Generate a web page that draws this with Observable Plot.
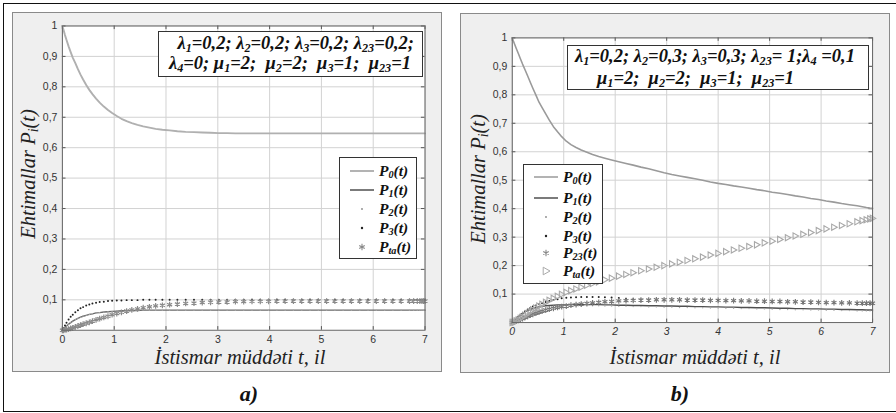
<!DOCTYPE html>
<html><head><meta charset="utf-8">
<script src="https://cdn.jsdelivr.net/npm/d3@7"></script>
<script src="https://cdn.jsdelivr.net/npm/@observablehq/plot@0.6"></script>
<style>
body{margin:0;background:#fff;}
#root{position:relative;width:896px;height:413px;overflow:hidden;}
.serif{font-family:"Liberation Serif","Times New Roman",Times,serif;}
.outer{position:absolute;left:3px;top:3px;width:895px;height:409px;border:1.5px solid #111;border-right:none;box-sizing:border-box}
.panel{position:absolute;background:#efefef;border:1.5px solid #8a8a8a;box-sizing:border-box}
.plot{position:absolute;left:0;top:0}
.note{position:absolute;background:#fff;border:1.5px solid #333;box-sizing:border-box;font-style:italic;font-weight:bold;font-size:18.5px;color:#111;white-space:nowrap}
.note div{position:absolute;line-height:20px}
sub{font-size:66%;vertical-align:baseline;position:relative;top:0.22em}
.leg{position:absolute;background:#fff;border:1.5px solid #333;box-sizing:border-box}
.legrow{position:absolute;left:0;height:18px;display:flex;align-items:center}
.legrow svg{display:block}
.legtxt{font-style:italic;font-weight:bold;font-size:15.5px;color:#111;margin-left:3px;white-space:nowrap}
.xt{position:absolute;font-style:italic;font-size:20.5px;color:#222;white-space:nowrap;transform:translate(-50%,-50%)}
.yt{position:absolute;font-style:italic;font-size:20.5px;color:#222;white-space:nowrap;transform:translate(-50%,-50%) rotate(-90deg)}
.cap{position:absolute;font-style:italic;font-weight:bold;font-size:22px;color:#111;transform:translate(-50%,-50%)}
</style></head>
<body><div id="root"></div>
<script>
// ---------- data ----------
const xTicks = [0, 1, 2, 3, 4, 5, 6, 7];
const yTicks = [0.1, 0.2, 0.3, 0.4, 0.5, 0.6, 0.7, 0.8, 0.9, 1];

// panel a) solver time points
const tA = [
 0, 0.02, 0.05, 0.08, 0.12, 0.16, 0.2, 0.25,
 0.3, 0.35, 0.4, 0.46, 0.52, 0.58, 0.65, 0.72,
 0.8, 0.88, 0.96, 1.05, 1.14, 1.24, 1.34, 1.45,
 1.56, 1.68, 1.8, 1.93, 2.07, 2.22, 2.38, 2.54,
 2.7, 2.86, 3.02, 3.18, 3.34, 3.5, 3.66, 3.82,
 3.98, 4.14, 4.3, 4.46, 4.62, 4.78, 4.94, 5.1,
 5.26, 5.42, 5.58, 5.74, 5.9, 6.06, 6.22, 6.38,
 6.54, 6.7, 6.78, 6.85, 6.9, 6.94, 6.97, 7.0];
const P0a = [
 1.000, 0.988, 0.970, 0.954, 0.933, 0.914, 0.896, 0.878,
 0.858, 0.840, 0.824, 0.806, 0.790, 0.776, 0.761, 0.748,
 0.735, 0.724, 0.714, 0.704, 0.695, 0.687, 0.681, 0.675,
 0.670, 0.666, 0.662, 0.659, 0.657, 0.654, 0.652, 0.651,
 0.650, 0.649, 0.648, 0.648, 0.647, 0.647, 0.647, 0.647,
 0.647, 0.647, 0.647, 0.647, 0.647, 0.647, 0.647, 0.647,
 0.647, 0.647, 0.647, 0.647, 0.647, 0.647, 0.647, 0.647,
 0.647, 0.647, 0.647, 0.647, 0.647, 0.647, 0.647, 0.647];
const P1a = [
 0, 0.004, 0.009, 0.014, 0.020, 0.025, 0.030, 0.035,
 0.039, 0.043, 0.046, 0.049, 0.052, 0.054, 0.057, 0.058,
 0.060, 0.061, 0.062, 0.063, 0.064, 0.064, 0.065, 0.065,
 0.066, 0.066, 0.066, 0.066, 0.066, 0.066, 0.066, 0.066,
 0.066, 0.066, 0.066, 0.066, 0.066, 0.066, 0.066, 0.066,
 0.066, 0.066, 0.066, 0.066, 0.066, 0.066, 0.066, 0.066,
 0.066, 0.066, 0.066, 0.066, 0.066, 0.066, 0.066, 0.066,
 0.066, 0.066, 0.066, 0.066, 0.066, 0.066, 0.066, 0.066];
const P2a = [
 0, 0.004, 0.009, 0.014, 0.020, 0.025, 0.030, 0.035,
 0.039, 0.043, 0.046, 0.049, 0.052, 0.054, 0.057, 0.058,
 0.060, 0.061, 0.062, 0.063, 0.064, 0.064, 0.065, 0.065,
 0.066, 0.066, 0.066, 0.066, 0.066, 0.066, 0.066, 0.066,
 0.066, 0.066, 0.066, 0.066, 0.066, 0.066, 0.066, 0.066,
 0.066, 0.066, 0.066, 0.066, 0.066, 0.066, 0.066, 0.066,
 0.066, 0.066, 0.066, 0.066, 0.066, 0.066, 0.066, 0.066,
 0.066, 0.066, 0.066, 0.066, 0.066, 0.066, 0.066, 0.066];
const P3a = [
 0, 0.007, 0.016, 0.025, 0.035, 0.044, 0.051, 0.059,
 0.066, 0.072, 0.076, 0.081, 0.085, 0.088, 0.090, 0.093,
 0.094, 0.096, 0.097, 0.098, 0.098, 0.099, 0.099, 0.099,
 0.100, 0.100, 0.100, 0.100, 0.100, 0.100, 0.100, 0.100,
 0.100, 0.100, 0.100, 0.100, 0.100, 0.100, 0.100, 0.100,
 0.100, 0.100, 0.100, 0.100, 0.100, 0.100, 0.100, 0.100,
 0.100, 0.100, 0.100, 0.100, 0.100, 0.100, 0.100, 0.100,
 0.100, 0.100, 0.100, 0.100, 0.100, 0.100, 0.100, 0.100];
const PTa_a = [
 0, 0.000, 0.001, 0.002, 0.004, 0.006, 0.008, 0.011,
 0.014, 0.017, 0.020, 0.023, 0.026, 0.030, 0.034, 0.038,
 0.042, 0.046, 0.051, 0.055, 0.059, 0.063, 0.067, 0.070,
 0.074, 0.077, 0.080, 0.082, 0.084, 0.086, 0.088, 0.089,
 0.091, 0.092, 0.093, 0.093, 0.094, 0.094, 0.095, 0.095,
 0.095, 0.096, 0.096, 0.096, 0.096, 0.096, 0.096, 0.096,
 0.096, 0.096, 0.096, 0.096, 0.096, 0.096, 0.096, 0.096,
 0.096, 0.096, 0.096, 0.096, 0.096, 0.096, 0.096, 0.096];

// panel b) solver time points
const tB = [
 0, 0.02, 0.05, 0.08, 0.12, 0.16, 0.2, 0.25,
 0.3, 0.35, 0.4, 0.46, 0.52, 0.58, 0.65, 0.72,
 0.8, 0.88, 0.96, 1.05, 1.14, 1.24, 1.34, 1.45,
 1.56, 1.68, 1.8, 1.93, 2.07, 2.21, 2.35, 2.5,
 2.65, 2.8, 2.95, 3.1, 3.25, 3.4, 3.55, 3.7,
 3.85, 4.0, 4.15, 4.3, 4.45, 4.6, 4.75, 4.9,
 5.05, 5.2, 5.35, 5.5, 5.65, 5.8, 5.95, 6.1,
 6.25, 6.4, 6.55, 6.7, 6.8, 6.88, 6.95, 7.0];
const P0b = [
 1.000, 0.990, 0.976, 0.962, 0.944, 0.926, 0.908, 0.887,
 0.866, 0.844, 0.823, 0.799, 0.774, 0.755, 0.733, 0.711,
 0.688, 0.670, 0.653, 0.637, 0.625, 0.615, 0.606, 0.598,
 0.590, 0.583, 0.577, 0.571, 0.565, 0.559, 0.553, 0.546,
 0.540, 0.533, 0.526, 0.520, 0.515, 0.510, 0.505, 0.500,
 0.494, 0.489, 0.485, 0.480, 0.476, 0.472, 0.467, 0.463,
 0.458, 0.454, 0.450, 0.445, 0.441, 0.436, 0.432, 0.427,
 0.423, 0.418, 0.414, 0.410, 0.407, 0.404, 0.402, 0.401];
const P1b = [
 0, 0.004, 0.010, 0.015, 0.021, 0.027, 0.032, 0.037,
 0.042, 0.046, 0.049, 0.052, 0.055, 0.057, 0.059, 0.060,
 0.061, 0.062, 0.062, 0.062, 0.063, 0.063, 0.063, 0.063,
 0.063, 0.063, 0.062, 0.062, 0.061, 0.061, 0.060, 0.060,
 0.059, 0.059, 0.058, 0.058, 0.057, 0.057, 0.056, 0.056,
 0.055, 0.055, 0.054, 0.054, 0.053, 0.053, 0.052, 0.052,
 0.051, 0.050, 0.050, 0.049, 0.049, 0.048, 0.048, 0.047,
 0.047, 0.046, 0.046, 0.045, 0.045, 0.044, 0.044, 0.044];
const P2b = [
 0, 0.003, 0.008, 0.013, 0.018, 0.023, 0.028, 0.033,
 0.038, 0.042, 0.045, 0.048, 0.051, 0.053, 0.055, 0.056,
 0.057, 0.058, 0.058, 0.059, 0.059, 0.059, 0.059, 0.059,
 0.059, 0.059, 0.058, 0.058, 0.057, 0.057, 0.056, 0.056,
 0.055, 0.055, 0.054, 0.054, 0.053, 0.053, 0.052, 0.052,
 0.051, 0.051, 0.050, 0.050, 0.049, 0.049, 0.048, 0.048,
 0.047, 0.046, 0.046, 0.045, 0.045, 0.044, 0.044, 0.043,
 0.043, 0.042, 0.042, 0.041, 0.041, 0.041, 0.041, 0.041];
const P3b = [
 0, 0.004, 0.009, 0.014, 0.020, 0.026, 0.032, 0.040,
 0.046, 0.051, 0.056, 0.060, 0.064, 0.068, 0.072, 0.076,
 0.079, 0.082, 0.085, 0.087, 0.088, 0.089, 0.090, 0.090,
 0.090, 0.090, 0.089, 0.088, 0.086, 0.084, 0.082, 0.081,
 0.080, 0.080, 0.080, 0.080, 0.080, 0.079, 0.079, 0.079,
 0.078, 0.078, 0.077, 0.077, 0.076, 0.076, 0.075, 0.075,
 0.074, 0.074, 0.073, 0.073, 0.072, 0.072, 0.071, 0.070,
 0.070, 0.069, 0.069, 0.068, 0.068, 0.068, 0.068, 0.068];
const P23b = [
 0, 0.001, 0.003, 0.005, 0.008, 0.011, 0.014, 0.018,
 0.022, 0.026, 0.029, 0.033, 0.037, 0.040, 0.044, 0.047,
 0.050, 0.053, 0.056, 0.058, 0.061, 0.063, 0.065, 0.067,
 0.069, 0.071, 0.073, 0.074, 0.076, 0.077, 0.078, 0.079,
 0.079, 0.080, 0.080, 0.080, 0.080, 0.079, 0.079, 0.079,
 0.078, 0.078, 0.077, 0.077, 0.076, 0.076, 0.075, 0.075,
 0.074, 0.074, 0.073, 0.073, 0.072, 0.072, 0.071, 0.070,
 0.070, 0.069, 0.069, 0.068, 0.068, 0.068, 0.068, 0.068];
const PTa_b = [
 0, 0.001, 0.003, 0.006, 0.010, 0.015, 0.020, 0.026,
 0.032, 0.038, 0.045, 0.051, 0.058, 0.064, 0.071, 0.078,
 0.085, 0.092, 0.099, 0.106, 0.112, 0.118, 0.124, 0.131,
 0.137, 0.143, 0.150, 0.156, 0.163, 0.169, 0.175, 0.182,
 0.188, 0.194, 0.200, 0.206, 0.212, 0.218, 0.224, 0.230,
 0.237, 0.243, 0.249, 0.255, 0.261, 0.267, 0.273, 0.280,
 0.286, 0.292, 0.298, 0.304, 0.310, 0.316, 0.323, 0.329,
 0.335, 0.341, 0.347, 0.354, 0.358, 0.361, 0.364, 0.366];

const xTitle = "İstismar müddəti t, il";
const yTitleHTML = "Ehtimallar P<sub>i</sub>(t)";
const noteA = ["λ<sub>1</sub>=0,2; λ<sub>2</sub>=0,2; λ<sub>3</sub>=0,2; λ<sub>23</sub>=0,2;",
               "λ<sub>4</sub>=0; μ<sub>1</sub>=2;&nbsp; μ<sub>2</sub>=2;&nbsp; μ<sub>3</sub>=1;&nbsp; μ<sub>23</sub>=1"];
const noteB = ["λ<sub>1</sub>=0,2; λ<sub>2</sub>=0,3; λ<sub>3</sub>=0,3; λ<sub>23</sub>= 1;λ<sub>4</sub> =0,1",
               "μ<sub>1</sub>=2;&nbsp; μ<sub>2</sub>=2;&nbsp; μ<sub>3</sub>=1;&nbsp; μ<sub>23</sub>=1"];
const legA = [["line0","P<sub>0</sub>(t)"],["line1","P<sub>1</sub>(t)"],["dot2","P<sub>2</sub>(t)"],["dot3","P<sub>3</sub>(t)"],["ast","P<sub>ta</sub>(t)"]];
const legB = [["line0","P<sub>0</sub>(t)"],["line1","P<sub>1</sub>(t)"],["dot2","P<sub>2</sub>(t)"],["dot3","P<sub>3</sub>(t)"],["ast","P<sub>23</sub>(t)"],["tri","P<sub>ta</sub>(t)"]];

// ---------- helpers ----------
const rows = (t, v) => t.map((x, i) => ({t: x, v: v[i]})).filter(d => d.v != null);
const triRight = {draw(ctx, size) {
  const r = Math.sqrt(size / Math.PI);
  ctx.moveTo(r, 0); ctx.lineTo(-r * 0.7, -r * 0.95); ctx.lineTo(-r * 0.7, r * 0.95); ctx.closePath();
}};
const fmt = d => String(d).replace(".", ",");

function makePlot(cfg) {
  const base = [
    Plot.frame({fill: "white", stroke: null}),
    Plot.gridX(xTicks, {stroke: "#d2d2d2", strokeOpacity: 1, strokeWidth: 1}),
    Plot.gridY(yTicks, {stroke: "#d2d2d2", strokeOpacity: 1, strokeWidth: 1}),
    // inward MATLAB-like ticks on all four sides
    Plot.ruleX(xTicks, {x: d => d, y1: 0, y2: 0.012, stroke: "#555"}),
    Plot.ruleX(xTicks, {x: d => d, y1: 0.988, y2: 1, stroke: "#555"}),
    Plot.ruleY(yTicks, {y: d => d, x1: 0, x2: 0.07, stroke: "#555"}),
    Plot.ruleY(yTicks, {y: d => d, x1: 6.93, x2: 7, stroke: "#555"}),
  ];
  return Plot.plot({
    width: cfg.width, height: cfg.height,
    marginLeft: cfg.ml, marginRight: cfg.mr, marginTop: cfg.mt, marginBottom: cfg.mb,
    x: {domain: [0, 7]}, y: {domain: [0, 1]},
    style: {background: "transparent", fontFamily: "'Liberation Sans', Arial, sans-serif", fontSize: "10.5px", color: "#333", overflow: "visible"},
    marks: [
      ...base,
      ...cfg.marks,
      Plot.frame({stroke: "#666", strokeWidth: 1}),
      Plot.axisY(yTicks, {tickSize: 0, tickPadding: 5, tickFormat: fmt, label: null, fill: "#333"}),
      Plot.axisX(xTicks, {tickSize: 0, tickPadding: 5, label: null, fill: "#333", fontStyle: cfg.xItalic ? "italic" : "normal"})
    ]
  });
}

const plotA = makePlot({
  width: 429, height: 359, ml: 50, mr: 15.5, mt: 13.5, mb: 40.5, xItalic: false,
  marks: [
    Plot.line(rows(tA, P0a), {x: "t", y: "v", stroke: "#b0b0b0", strokeWidth: 1.9}),
    Plot.line(rows(tA, P1a), {x: "t", y: "v", stroke: "#6a6a6a", strokeWidth: 1.4}),
    Plot.dot(rows(tA, P2a), {x: "t", y: "v", r: 0.7, fill: "#aaa", stroke: null}),
    Plot.dot(rows(tA, P3a), {x: "t", y: "v", r: 1.0, fill: "#222", stroke: null}),
    Plot.dot(rows(tA, PTa_a), {x: "t", y: "v", symbol: "asterisk", r: 2.7, stroke: "#8a8a8a", strokeWidth: 1.2})
  ]
});
const plotB = makePlot({
  width: 430, height: 359, ml: 52, mr: 16, mt: 25.5, mb: 47.5, xItalic: true,
  marks: [
    Plot.line(rows(tB, P0b), {x: "t", y: "v", stroke: "#9a9a9a", strokeWidth: 1.6}),
    Plot.line(rows(tB, P1b), {x: "t", y: "v", stroke: "#505050", strokeWidth: 1.4}),
    Plot.dot(rows(tB, P2b), {x: "t", y: "v", r: 0.7, fill: "#aaa", stroke: null}),
    Plot.dot(rows(tB, P3b), {x: "t", y: "v", r: 1.0, fill: "#222", stroke: null}),
    Plot.dot(rows(tB, P23b), {x: "t", y: "v", symbol: "asterisk", r: 2.7, stroke: "#7a7a7a", strokeWidth: 1.2}),
    Plot.dot(rows(tB, PTa_b), {x: "t", y: "v", symbol: triRight, r: 3.3, stroke: "#a8a8a8", strokeWidth: 1.1, fill: "none"})
  ]
});

// ---------- layout ----------
const root = document.getElementById("root");
function el(cls, css, html) {
  const d = document.createElement("div");
  d.className = cls; Object.assign(d.style, css); if (html != null) d.innerHTML = html;
  root.appendChild(d); return d;
}
el("outer", {});
const pA = el("panel", {left: "12px", top: "12px", width: "430px", height: "360px"});
pA.appendChild(plotA); plotA.classList.add("plot"); plotA.style.left = "-1.5px"; plotA.style.top = "-1.5px";
const pB = el("panel", {left: "460px", top: "12.5px", width: "430px", height: "360px"});
pB.appendChild(plotB); plotB.classList.add("plot"); plotB.style.left = "-1.5px"; plotB.style.top = "-1.5px";

function legendSample(kind) {
  const w = 28, h = 16, cy = 8;
  let inner = "";
  if (kind === "line0") inner = `<line x1="2" x2="26" y1="${cy}" y2="${cy}" stroke="#ababab" stroke-width="1.8"/>`;
  if (kind === "line1") inner = `<line x1="2" x2="26" y1="${cy}" y2="${cy}" stroke="#5a5a5a" stroke-width="1.6"/>`;
  if (kind === "dot2") inner = `<circle cx="14" cy="${cy}" r="0.9" fill="#888"/>`;
  if (kind === "dot3") inner = `<circle cx="14" cy="${cy}" r="1.2" fill="#222"/>`;
  if (kind === "ast") inner = `<path transform="translate(14,${cy})" d="${d3.symbol(d3.symbolAsterisk, Math.PI * 3 * 3)()}" stroke="#888" stroke-width="1.1" fill="none"/>`;
  if (kind === "tri") inner = `<path transform="translate(14,${cy})" d="M4,0L-2.8,-3.8L-2.8,3.8Z" stroke="#aaa" stroke-width="1" fill="none"/>`;
  return `<svg width="${w}" height="${h}">${inner}</svg>`;
}
function legend(items, css, rowTops, symLeft) {
  const box = el("leg", css);
  items.forEach(([k, txt], i) => {
    const r = document.createElement("div");
    r.className = "legrow"; r.style.top = (rowTops[i] - 9) + "px"; r.style.left = symLeft + "px";
    r.innerHTML = legendSample(k) + `<span class="legtxt serif">${txt}</span>`;
    box.appendChild(r);
  });
}
legend(legA, {left: "339px", top: "157px", width: "78px", height: "102px"}, [13, 32, 51, 70, 89], 8);
legend(legB, {left: "523px", top: "164px", width: "80px", height: "120px"}, [12, 33, 52, 71, 88, 106], 8);

const nA = el("note serif", {left: "158px", top: "31px", width: "265px", height: "46px"});
nA.innerHTML = `<div style="right:8px;top:1px">${noteA[0]}</div><div style="right:11px;top:21px">${noteA[1]}</div>`;
const nB = el("note serif", {left: "567px", top: "45px", width: "302px", height: "45px"});
nB.innerHTML = `<div style="left:7px;top:0px">${noteB[0]}</div><div style="left:29px;top:22px">${noteB[1]}</div>`;

el("xt serif", {left: "240px", top: "357px"}, xTitle);
el("xt serif", {left: "695px", top: "357px"}, xTitle);
el("yt serif", {left: "28px", top: "174px"}, yTitleHTML);
el("yt serif", {left: "478px", top: "179px"}, yTitleHTML);
el("cap serif", {left: "249px", top: "394px"}, "a)");
el("cap serif", {left: "680px", top: "394px"}, "b)");
</script>
</body></html>
